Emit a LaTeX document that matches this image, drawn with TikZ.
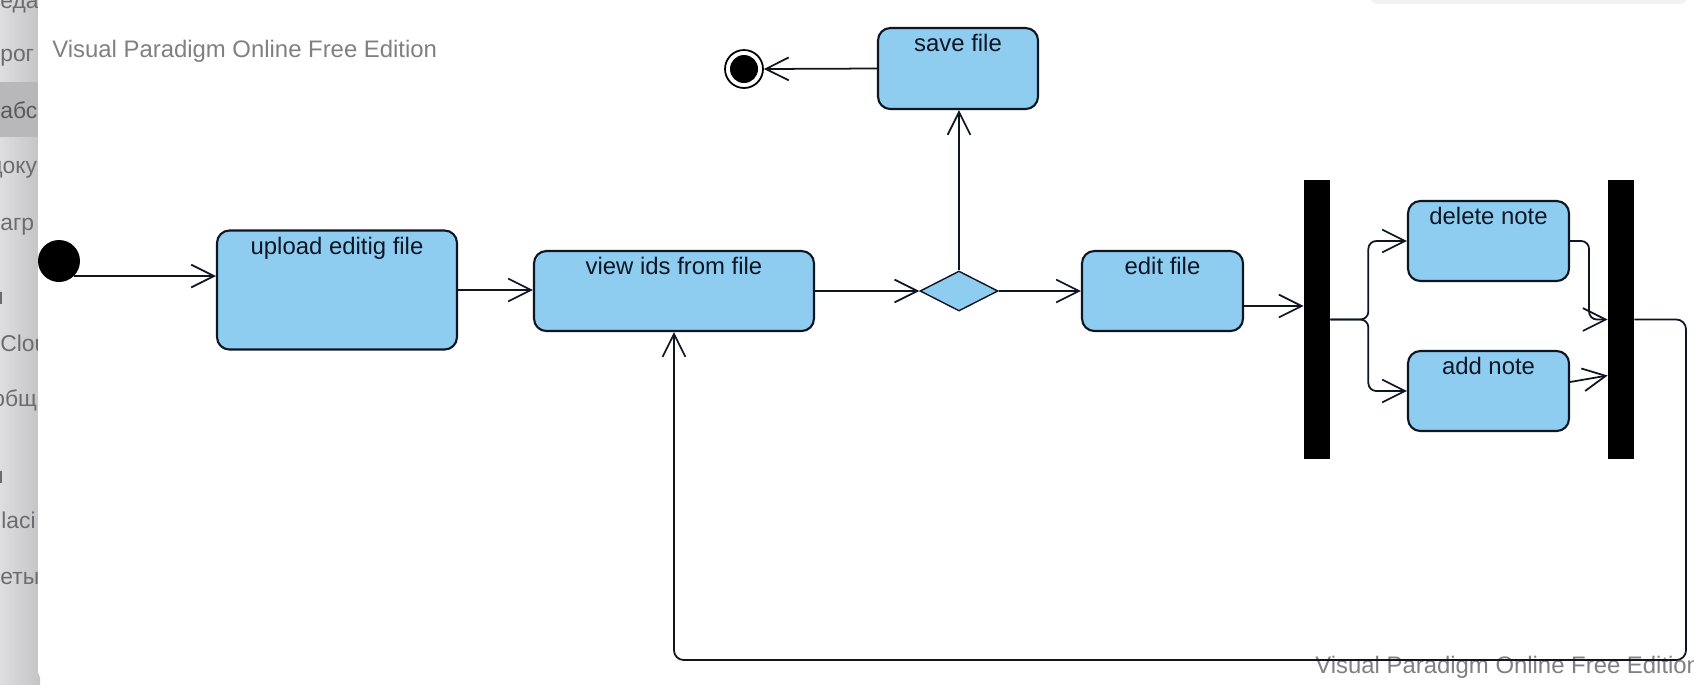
\documentclass[tikz,border=0pt]{standalone}
\usepackage{fontspec}
\setmainfont{Liberation Sans}
\usepackage{xcolor}
\usepackage{tikz}
\usetikzlibrary{arrows.meta,calc,positioning,shapes.geometric}
\definecolor{vpblue}{RGB}{142,204,240}
\definecolor{vpline}{RGB}{14,22,36}
\definecolor{vpgray}{RGB}{128,128,128}
\definecolor{sideleft}{RGB}{222,222,224}
\definecolor{sideright}{RGB}{196,196,200}
\definecolor{sideband}{RGB}{184,184,186}

\begin{document}
\begin{tikzpicture}[
    x=0.02cm, y=-0.02cm,
    font=\fontsize{13.6}{16}\selectfont,
    activity/.style={rectangle, rounded corners=7pt, draw=vpline, line width=1.2pt, fill=vpblue, inner sep=0},
    caption/.style={anchor=north, inner sep=0, yshift=-4pt, text=vpline},
    bar/.style={rectangle, fill=black, inner sep=0, minimum width=0.52cm, minimum height=5.58cm},
    decision/.style={diamond, draw=vpline, line width=0.8pt, fill=vpblue, inner sep=0, minimum width=1.56cm, minimum height=0.8cm},
    flow/.style={draw=vpline, line width=1pt, -{Straight Barb[length=13pt, width=13pt, line width=1pt]}},
    watermark/.style={anchor=west, inner sep=0, text=vpgray},
    menu/.style={anchor=west, inner sep=0, text=gray!85!black, font=\fontsize{13}{15}\selectfont}
    ]
\useasboundingbox (0,0) rectangle (1694,684);
\clip (0,0) rectangle (1694,684);

\shade[left color=sideleft, right color=sideright] (0,0) rectangle (40,684);
\fill[sideband] (0,82) rectangle (40,137);
\node[menu] (m1) at (0,5) {еда};
\node[menu] (m2) at (0,58) {рог};
\node[menu, text=gray!70!black] (m3) at (0,110) {абс};
\node[menu] (m4) at (-11,170) {доку};
\node[menu] (m5) at (0,227) {агр};
\node[menu, anchor=east] (m6) at (4,298) {н};
\node[menu] (m7) at (0,343) {Clou};
\node[menu] (m8) at (-8,400) {общ};
\node[menu, anchor=east] (m9) at (4,477) {н};
\node[menu] (m10) at (1,520) {laci};
\node[menu] (m11) at (0,578) {еты};

\fill[white, rounded corners=8pt] (38,-20) rectangle (1720,684);
\fill[gray!10, rounded corners=4pt] (1370,-10) rectangle (1687,4);

\node[watermark] (wmtop) at (52,51) {Visual Paradigm Online Free Edition};
\node[watermark] (wmbottom) at (1315,667) {Visual Paradigm Online Free Edition};

\node[circle, fill=black, inner sep=0, minimum size=0.84cm] (start) at (59,261) {};
\node[activity, minimum width=4.8cm, minimum height=2.38cm, label={[caption]north:upload editig file}] (upload) at (337,290) {};
\node[activity, minimum width=5.6cm, minimum height=1.6cm, label={[caption]north:view ids from file}] (view) at (674,291) {};
\node[decision] (decide) at (959,291) {};
\node[activity, minimum width=3.2cm, minimum height=1.62cm, label={[caption]north:save file}] (save) at (958,68.5) {};
\node[circle, draw=black, line width=1pt, inner sep=0, minimum size=0.76cm] (final) at (744,69) {};
\node[circle, fill=black, inner sep=0, minimum size=0.56cm] (finaldot) at (final) {};
\node[activity, minimum width=3.22cm, minimum height=1.6cm, label={[caption]north:edit file}] (edit) at (1162.5,291) {};
\node[bar] (fork1) at (1317,319.5) {};
\node[activity, minimum width=3.22cm, minimum height=1.6cm, label={[caption]north:delete note}] (delete) at (1488.5,241) {};
\node[activity, minimum width=3.22cm, minimum height=1.6cm, label={[caption]north:add note}] (add) at (1488.5,391) {};
\node[bar] (fork2) at (1621,319.5) {};
\coordinate (loopturn) at (1686,660);

\draw[flow] (start.-45) -- (start.-45 -| upload.west);
\draw[flow] (upload.east) -- (upload.east -| view.west);
\draw[flow] (view.east) -- (decide.west);
\draw[flow] (decide.north) -- (decide.north |- save.south);
\draw[flow] (save.west) -- (final.east);
\draw[flow] (decide.east) -- (edit.west);
\draw[flow] ($(edit.east)+(0,15)$) -- ($(fork1.west)+(0,-13.5)$);
\draw[flow, rounded corners=4.5pt] (fork1.east) -- ++(38,0) |- (delete.west);
\draw[flow, rounded corners=4.5pt] (fork1.east) -- ++(38,0) |- (add.west);
\draw[flow, rounded corners=4.5pt] (delete.east) -- ++(19,0) |- (fork2.west);
\draw[flow] ($(add.east)+(0,-9)$) -- ($(fork2.west)+(0,56)$);
\draw[flow, rounded corners=5.5pt] (fork2.east) -| (loopturn) -| (view.south);

\end{tikzpicture}
\end{document}
